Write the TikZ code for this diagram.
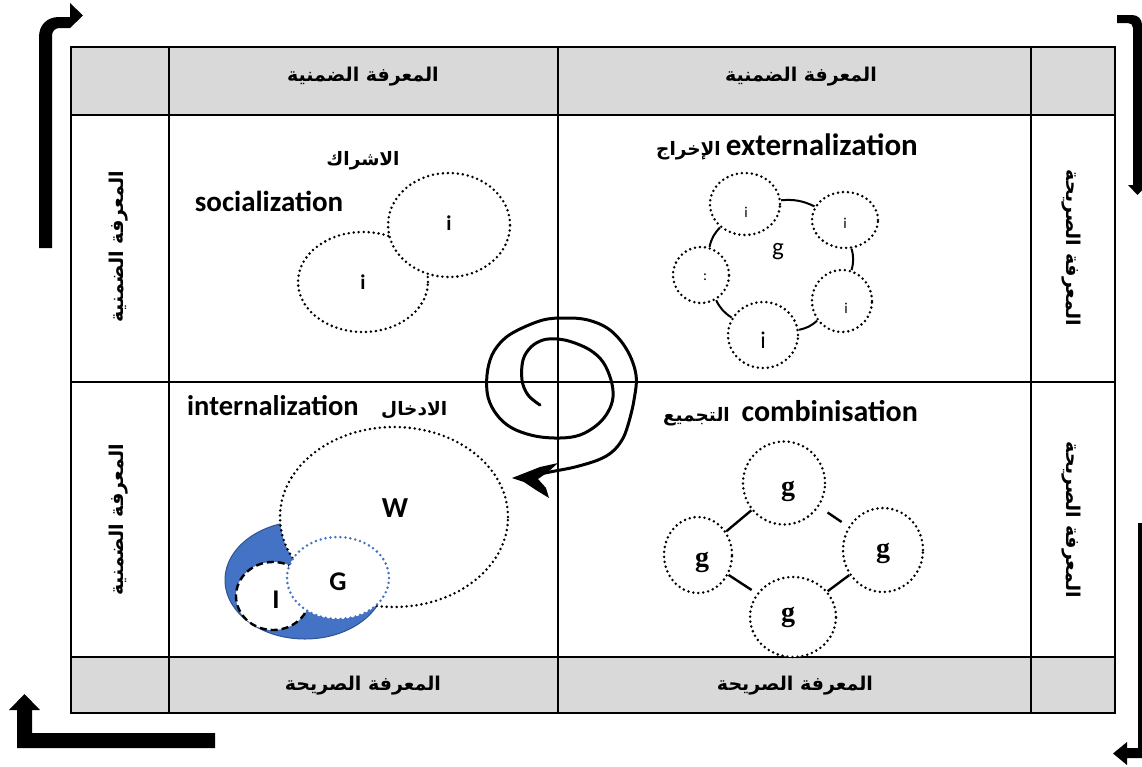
\documentclass[tikz,border=0pt]{standalone}
\usepackage{fontspec}
\setmainfont{Carlito}
\newfontfamily\arfont[Script=Arabic]{DejaVu Sans}
\newfontfamily\gfont{Liberation Serif}
\TeXXeTstate=1
\usetikzlibrary{shapes.geometric}
\definecolor{hdrgray}{HTML}{D9D9D9}
\definecolor{moonblue}{HTML}{4472C4}
\definecolor{moonedge}{HTML}{2F528F}
\definecolor{gblue}{HTML}{4472C4}
\begin{document}
\begin{tikzpicture}[x=1pt,y=-1pt,
  grid/.style={line width=2pt},
  hdr/.style={font=\arfont\bfseries\fontsize{19}{22}\selectfont, inner sep=0pt},
  artitle/.style={font=\arfont\bfseries\fontsize{18.5}{22}\selectfont, inner sep=0pt},
  entitle/.style={font=\bfseries\fontsize{30}{34}\selectfont, inner sep=0pt},
  lbl/.style={font=\bfseries\fontsize{21}{24}\selectfont, inner sep=0pt},
  smalllbl/.style={font=\fontsize{15}{18}\selectfont, inner sep=0pt},
  glbl/.style={font=\gfont\bfseries\fontsize{28}{30}\selectfont, inner sep=0pt},
  biglbl/.style={font=\bfseries\fontsize{27}{30}\selectfont, inner sep=0pt},
  dotell/.style={ellipse, draw=black, line width=2.8pt, dash pattern=on 0pt off 5pt,
    line cap=round, inner sep=0pt, fill=white},
  ring/.style={line width=2pt},
  cline/.style={line width=2.4pt},
  spiral/.style={line width=3pt, line join=round, line cap=round}]
\useasboundingbox (0,0) rectangle (1142,766);
\clip (0,0) rectangle (1142,766);

% bent block arrows round the table
\fill (39,248) -- (39,37) .. controls (39,25) and (47,17) .. (59,17) -- (70,17)
  -- (70,3) -- (83,15.5) -- (70,28) -- (60,28) .. controls (55,28) and (52,31) .. (52,36)
  -- (52,248) -- cycle;
\fill (1117,15) -- (1132,15) .. controls (1138,15) and (1142,19) .. (1142,25)
  -- (1142,185) -- (1147,185) -- (1137.5,195) -- (1128,185) -- (1133,185) -- (1133,28)
  .. controls (1133,25) and (1131,23) .. (1128,23) -- (1117,23) -- cycle;
\fill (1138,523) -- (1142,523) -- (1142,758) -- (1127,758) -- (1127,765) -- (1113,753.5)
  -- (1127,742) -- (1127,748) -- (1138,748) -- cycle;
\fill (215,733) -- (215,748) -- (17,748) -- (17,710) -- (9,710) -- (24.5,694) -- (40,710)
  -- (32,710) -- (32,733) -- cycle;

% table
\fill[hdrgray] (71,47) rectangle (1115,115);
\fill[hdrgray] (71,657) rectangle (1115,713);
\draw[grid] (71,115) -- (1115,115);
\draw[grid] (71,382) -- (1115,382);
\draw[grid] (71,657) -- (1115,657);
\draw[grid] (169,47) -- (169,713);
\draw[grid] (558,47) -- (558,713);
\draw[grid] (1031,47) -- (1031,713);
\draw[grid] (71,47) rectangle (1115,713);

% header texts
\node[hdr] (hTL) at (363,77) {\beginR المعرفة الضمنية\endR};
\node[hdr] (hTR) at (801,77) {\beginR المعرفة الضمنية\endR};
\node[hdr] (hBL) at (363,686) {\beginR المعرفة الصريحة\endR};
\node[hdr] (hBR) at (795,686) {\beginR المعرفة الصريحة\endR};
\node[hdr, rotate=90] (hL1) at (119,247) {\beginR المعرفة الضمنية\endR};
\node[hdr, rotate=90] (hL2) at (119,520) {\beginR المعرفة الضمنية\endR};
\node[hdr, rotate=-90] (hR1) at (1071,248) {\beginR المعرفة الصريحة\endR};
\node[hdr, rotate=-90] (hR2) at (1071,520) {\beginR المعرفة الصريحة\endR};

% socialization
\node[artitle, anchor=base] (socAr) at (363,165) {\beginR الاشراك\endR};
\node[entitle, font=\bfseries\fontsize{29}{34}\selectfont, anchor=base] (socEn) at (269,211) {socialization};
\node[dotell, minimum width=130pt, minimum height=100pt] (s2) at (363,282) {};
\node[dotell, minimum width=122pt, minimum height=104pt] (s1) at (449,225) {};
\node[lbl] (s1l) at (449,223) {i};
\node[lbl] (s2l) at (363,282) {i};

% externalization
\node[entitle, font=\bfseries\fontsize{31}{34}\selectfont, anchor=base east] (extEn) at (918,155) {externalization};
\node[artitle, anchor=base east] (extAr) at (721,155) {\beginR الإخراج\endR};
\node[dotell, minimum width=70pt, minimum height=62pt] (e1) at (745,204) {};
\node[dotell, minimum width=66pt, minimum height=56pt] (e2) at (845,220) {};
\node[dotell, minimum width=56pt, minimum height=56pt] (e3) at (701,275) {};
\node[dotell, minimum width=60pt, minimum height=62pt] (e4) at (842,301) {};
\node[dotell, minimum width=70pt, minimum height=66pt] (e5) at (763,335) {};
\draw[ring] (e1) to[bend left=15] (e2);
\draw[ring] (e2) to[bend left=15] (e4);
\draw[ring] (e4) to[bend left=15] (e5);
\draw[ring] (e5) to[bend left=15] (e3);
\draw[ring] (e3) to[bend left=15] (e1);
\node[smalllbl] (e1l) at (746,212) {i};
\node[smalllbl] (e2l) at (845,223) {i};
\node[smalllbl] (e3l) at (705,277) {:};
\node[smalllbl] (e4l) at (846,308) {i};
\node[font=\fontsize{24}{26}\selectfont, inner sep=0pt] (e5l) at (763,340) {i};
\node[font=\fontsize{25}{28}\selectfont, inner sep=0pt] (eg) at (778,252) {g};

% combinisation
\node[entitle, anchor=base east] (comEn) at (918,421) {combinisation};
\node[artitle, anchor=base east] (comAr) at (730,421) {\beginR التجميع\endR};
\node[dotell, minimum width=82pt, minimum height=83pt] (ct) at (784,483) {};
\node[dotell, minimum width=68pt, minimum height=76pt] (cl) at (698,555) {};
\node[dotell, minimum width=80pt, minimum height=84pt] (cr) at (883,550) {};
\node[dotell, minimum width=86pt, minimum height=80pt] (cb) at (793,617) {};
\draw[cline] (cl) -- (ct);
\draw[cline, shorten <=10pt, shorten >=8pt] (ct) -- (cr);
\draw[cline] (cb) -- (cr);
\draw[cline, shorten >=6pt] (cl) -- (cb);
\node[glbl] (ctl) at (788,491) {g};
\node[glbl] (cll) at (702,562) {g};
\node[glbl] (crl) at (883,553) {g};
\node[glbl] (cbl) at (788,617) {g};

% internalization
\node[entitle, font=\bfseries\fontsize{28.5}{34}\selectfont, anchor=base west] (intEn) at (187,415) {internalization};
\node[artitle, anchor=base west] (intAr) at (381,415) {\beginR الادخال\endR};
\node[ellipse, fill=moonblue, draw=moonedge, line width=1pt, inner sep=0pt,
  minimum width=160pt, minimum height=118pt] (moon) at (305,580) {};
\node[dotell, minimum width=228pt, minimum height=180pt] (W) at (394,517) {};
\node[ellipse, draw=black, fill=white, line width=2.4pt, dash pattern=on 7pt off 4pt,
  inner sep=0pt, minimum width=74pt, minimum height=68pt] (I) at (273,596) {};
\node[dotell, draw=gblue, minimum width=102pt, minimum height=82pt] (G) at (338,578) {};
\node[biglbl, font=\bfseries\fontsize{29}{30}\selectfont] (Wl) at (395,508) {W};
\node[biglbl] (Gl) at (338,582) {G};
\node[biglbl] (Il) at (276,600) {I};

% spiral arrow
\coordinate (spIn) at (540,405);
\coordinate (spOut) at (540,474);
\draw[spiral] plot[smooth, tension=0.6] coordinates {
  (540,405) (528,395) (522,380) (523,360) (531,347) (543,340) (557,339) (572,342)
  (590,350) (603,362) (611,380) (613,397) (608,412) (597,425) (580,435) (560,438)
  (535,436) (512,428) (497,415) (488,397) (487,375) (492,355) (503,340) (518,330)
  (543,320) (565,318) (588,320) (610,330) (627,350) (636,375) (634,400) (628,425)
  (622,440) (612,452) (598,460) (575,467) (555,471) (540,474)};
\fill (512,478) -- (540,467) -- (558,463) -- (548,472) -- (538,479) -- (546,488)
  -- (549,498) -- (536,490) -- (524,482) -- cycle;
\draw[line width=3pt] (spOut) -- (522,477);
\end{tikzpicture}
\end{document}
